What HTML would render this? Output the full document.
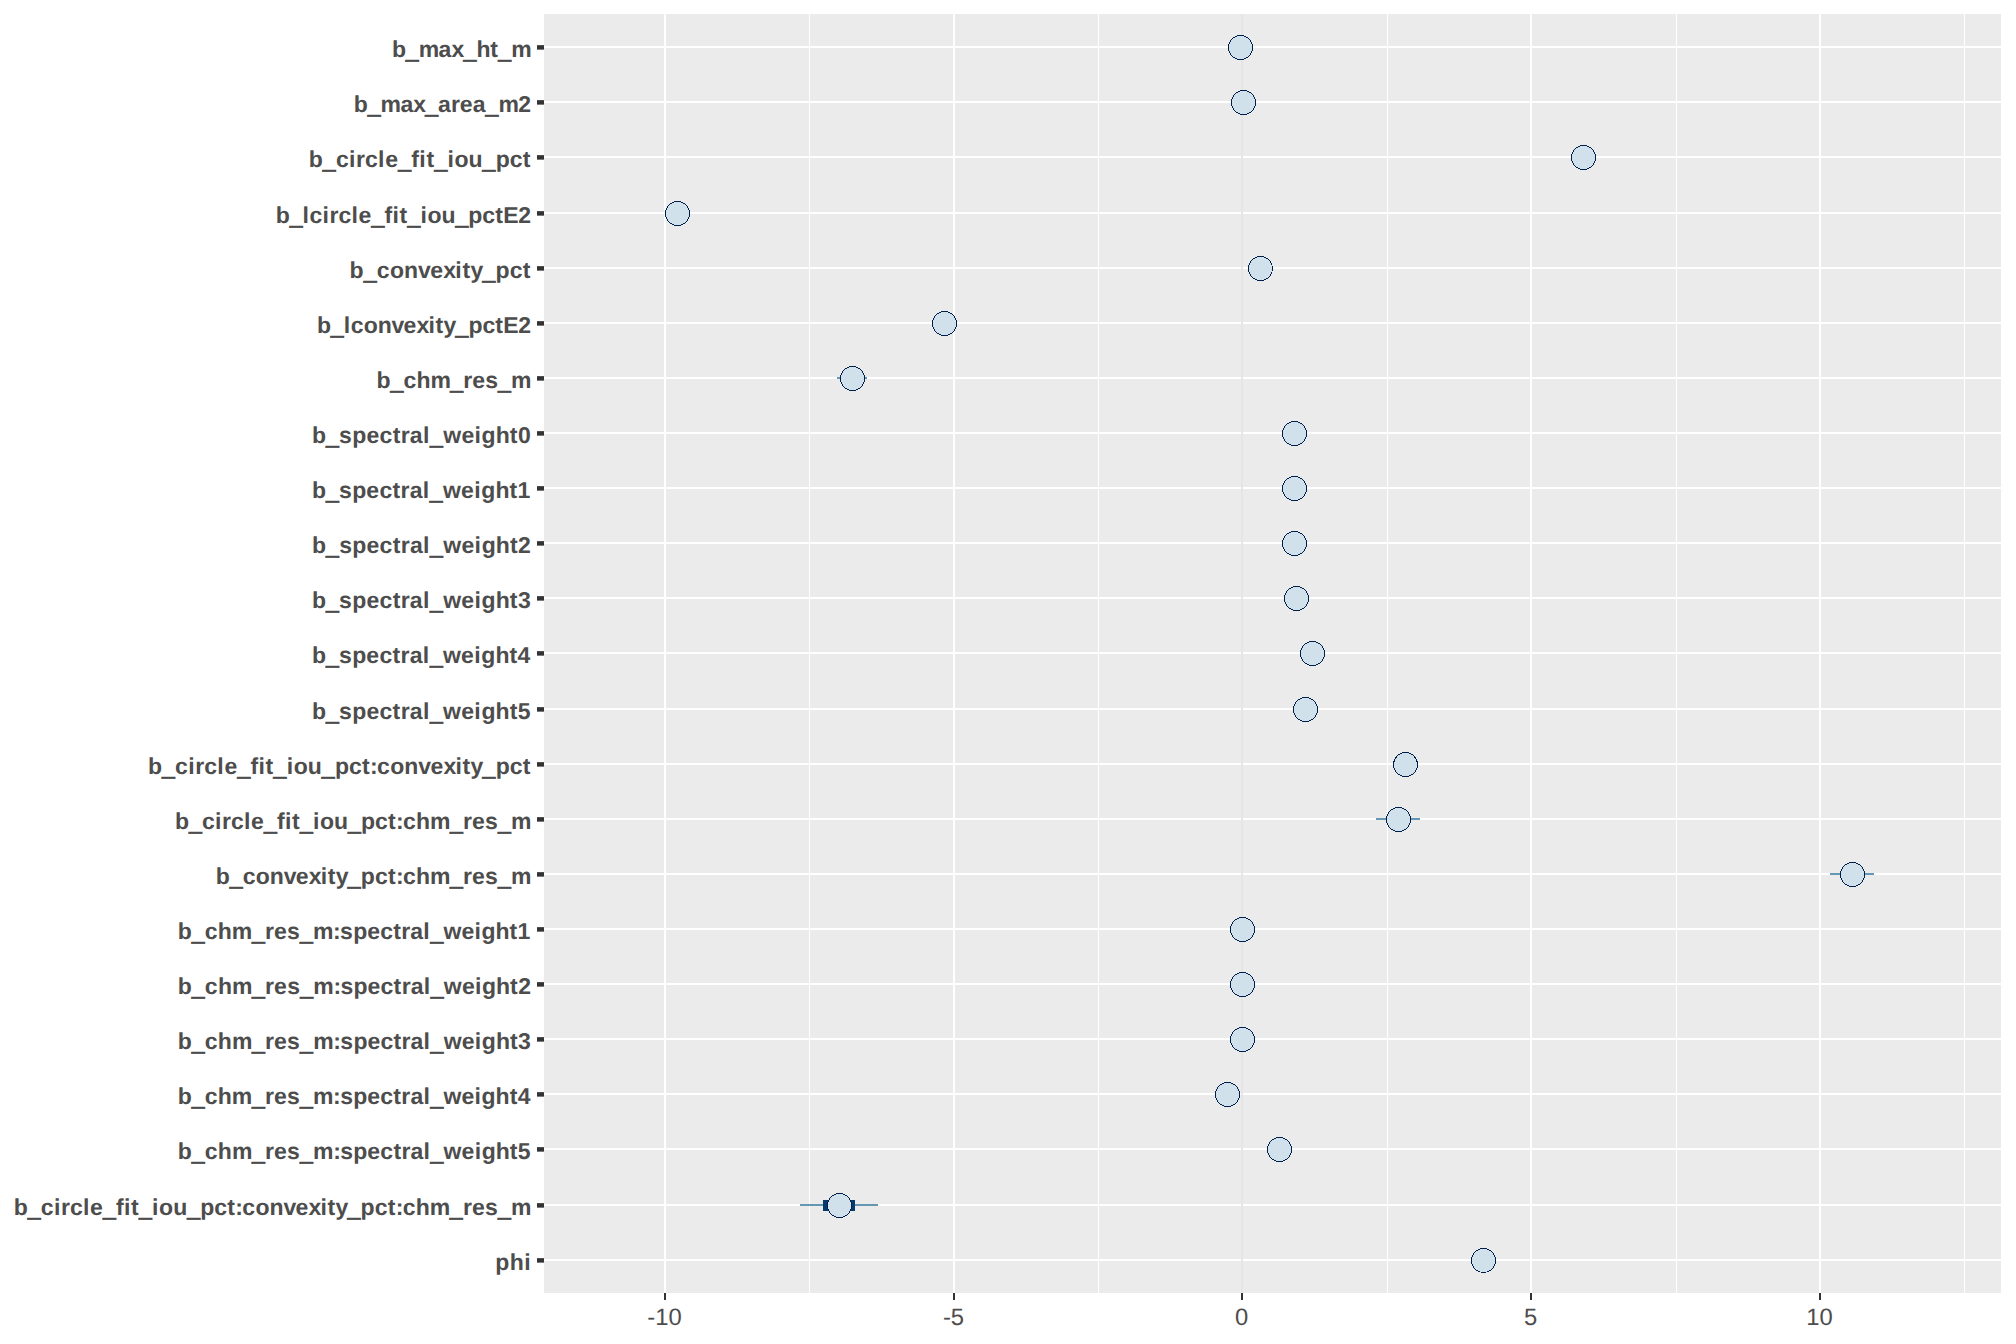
<!DOCTYPE html>
<html lang="en"><head><meta charset="utf-8"><title>mcmc intervals</title>
<style>html,body{margin:0;padding:0;background:#fff}svg{display:block}text{text-rendering:geometricPrecision}.yl{font:bold 23.00px "Liberation Sans",Arial,sans-serif;fill:#4d4d4d}.u{font-weight:400;stroke:#4d4d4d;stroke-width:.6px}.xl{font:23.80px "Liberation Sans",Arial,sans-serif;fill:#4d4d4d;text-anchor:middle}</style></head><body>
<svg width="2016" height="1344" viewBox="0 0 2016 1344">
<rect x="0" y="0" width="2016" height="1344" fill="#ffffff"/>
<rect x="544" y="14" width="1457" height="1279" fill="#ebebeb"/>
<g shape-rendering="crispEdges" fill="#ffffff">
<rect x="809" y="14" width="1" height="1279"/>
<rect x="1098" y="14" width="1" height="1279"/>
<rect x="1387" y="14" width="1" height="1279"/>
<rect x="1676" y="14" width="1" height="1279"/>
<rect x="1964" y="14" width="1" height="1279"/>
<rect x="664" y="14" width="2" height="1279"/>
<rect x="953" y="14" width="2" height="1279"/>
<rect x="1241" y="14" width="2" height="1279"/>
<rect x="1530" y="14" width="2" height="1279"/>
<rect x="1819" y="14" width="2" height="1279"/>
<rect x="544" y="46" width="1457" height="2"/>
<rect x="544" y="101" width="1457" height="2"/>
<rect x="544" y="156" width="1457" height="2"/>
<rect x="544" y="212" width="1457" height="2"/>
<rect x="544" y="267" width="1457" height="2"/>
<rect x="544" y="322" width="1457" height="2"/>
<rect x="544" y="377" width="1457" height="2"/>
<rect x="544" y="432" width="1457" height="2"/>
<rect x="544" y="487" width="1457" height="2"/>
<rect x="544" y="542" width="1457" height="2"/>
<rect x="544" y="597" width="1457" height="2"/>
<rect x="544" y="652" width="1457" height="2"/>
<rect x="544" y="708" width="1457" height="2"/>
<rect x="544" y="763" width="1457" height="2"/>
<rect x="544" y="818" width="1457" height="2"/>
<rect x="544" y="873" width="1457" height="2"/>
<rect x="544" y="928" width="1457" height="2"/>
<rect x="544" y="983" width="1457" height="2"/>
<rect x="544" y="1038" width="1457" height="2"/>
<rect x="544" y="1093" width="1457" height="2"/>
<rect x="544" y="1148" width="1457" height="2"/>
<rect x="544" y="1204" width="1457" height="2"/>
<rect x="544" y="1259" width="1457" height="2"/>
</g>
<rect x="1241" y="14" width="2" height="1279" fill="#e5e5e5" shape-rendering="crispEdges"/>
<g shape-rendering="crispEdges">
<rect x="837.0" y="377" width="30.1" height="2" fill="#6497b1"/>
<rect x="1376.0" y="818" width="44.1" height="2" fill="#6497b1"/>
<rect x="1830.1" y="873" width="43.9" height="2" fill="#6497b1"/>
<rect x="800.1" y="1204" width="77.8" height="2" fill="#6497b1"/>
<rect x="823.0" y="1200.1" width="32.1" height="10.6" fill="#03396c"/>
</g>
<g fill="#d1e1ec" stroke="#011f4b" stroke-width="1" shape-rendering="crispEdges">
<circle cx="1240.5" cy="47.5" r="12"/>
<circle cx="1243.5" cy="102.5" r="12"/>
<circle cx="1583.5" cy="157.5" r="12"/>
<circle cx="677.5" cy="213.5" r="12"/>
<circle cx="1260.5" cy="268.5" r="12"/>
<circle cx="944.5" cy="323.5" r="12"/>
<circle cx="852.5" cy="378.5" r="12"/>
<circle cx="1294.5" cy="433.5" r="12"/>
<circle cx="1294.5" cy="488.5" r="12"/>
<circle cx="1294.5" cy="543.5" r="12"/>
<circle cx="1296.5" cy="598.5" r="12"/>
<circle cx="1312.5" cy="653.5" r="12"/>
<circle cx="1305.5" cy="709.5" r="12"/>
<circle cx="1405.5" cy="764.5" r="12"/>
<circle cx="1398.5" cy="819.5" r="12"/>
<circle cx="1852.5" cy="874.5" r="12"/>
<circle cx="1242.5" cy="929.5" r="12"/>
<circle cx="1242.5" cy="984.5" r="12"/>
<circle cx="1242.5" cy="1039.5" r="12"/>
<circle cx="1227.5" cy="1094.5" r="12"/>
<circle cx="1279.5" cy="1149.5" r="12"/>
<circle cx="839.5" cy="1205.5" r="12"/>
<circle cx="1483.5" cy="1260.5" r="12"/>
</g>
<g fill="#333333">
<rect x="537" y="45.15" width="7" height="4.5"/>
<rect x="537" y="100.15" width="7" height="4.5"/>
<rect x="537" y="155.15" width="7" height="4.5"/>
<rect x="537" y="211.15" width="7" height="4.5"/>
<rect x="537" y="266.15" width="7" height="4.5"/>
<rect x="537" y="321.15" width="7" height="4.5"/>
<rect x="537" y="376.15" width="7" height="4.5"/>
<rect x="537" y="431.15" width="7" height="4.5"/>
<rect x="537" y="486.15" width="7" height="4.5"/>
<rect x="537" y="541.15" width="7" height="4.5"/>
<rect x="537" y="596.15" width="7" height="4.5"/>
<rect x="537" y="651.15" width="7" height="4.5"/>
<rect x="537" y="707.15" width="7" height="4.5"/>
<rect x="537" y="762.15" width="7" height="4.5"/>
<rect x="537" y="817.15" width="7" height="4.5"/>
<rect x="537" y="872.15" width="7" height="4.5"/>
<rect x="537" y="927.15" width="7" height="4.5"/>
<rect x="537" y="982.15" width="7" height="4.5"/>
<rect x="537" y="1037.15" width="7" height="4.5"/>
<rect x="537" y="1092.15" width="7" height="4.5"/>
<rect x="537" y="1147.15" width="7" height="4.5"/>
<rect x="537" y="1203.15" width="7" height="4.5"/>
<rect x="537" y="1258.15" width="7" height="4.5"/>
<rect x="664" y="1293" width="2" height="7" shape-rendering="crispEdges"/>
<rect x="953" y="1293" width="2" height="7" shape-rendering="crispEdges"/>
<rect x="1241" y="1293" width="2" height="7" shape-rendering="crispEdges"/>
<rect x="1530" y="1293" width="2" height="7" shape-rendering="crispEdges"/>
<rect x="1819" y="1293" width="2" height="7" shape-rendering="crispEdges"/>
</g>
<text class="yl" aria-label="b_max_ht_m"><tspan x="391.9" y="57.0">b</tspan><tspan class="u" x="405.8" y="57.3">_</tspan><tspan x="418.7 438.6 451.5" y="57.0">max</tspan><tspan class="u" x="463.4" y="57.3">_</tspan><tspan x="476.4 490.3" y="57.0">ht</tspan><tspan class="u" x="498.2" y="57.3">_</tspan><tspan x="511.2" y="57.0">m</tspan></text>
<text class="yl" aria-label="b_max_area_m2"><tspan x="353.8" y="112.0">b</tspan><tspan class="u" x="367.7" y="112.3">_</tspan><tspan x="380.5 400.4 413.3" y="112.0">max</tspan><tspan class="u" x="425.2" y="112.3">_</tspan><tspan x="438.0 450.9 459.8 472.7" y="112.0">area</tspan><tspan class="u" x="485.6" y="112.3">_</tspan><tspan x="498.5 518.3" y="112.0">m2</tspan></text>
<text class="yl" aria-label="b_circle_fit_iou_pct"><tspan x="308.8" y="167.0">b</tspan><tspan class="u" x="322.8" y="167.3">_</tspan><tspan x="335.9 349.0 356.0 365.1 378.1 385.2" y="167.0">circle</tspan><tspan class="u" x="398.2" y="167.3">_</tspan><tspan x="411.3 419.3 426.4" y="167.0">fit</tspan><tspan class="u" x="434.4" y="167.3">_</tspan><tspan x="447.5 454.5 468.6" y="167.0">iou</tspan><tspan class="u" x="482.6" y="167.3">_</tspan><tspan x="495.7 509.8 522.8" y="167.0">pct</tspan></text>
<text class="yl" aria-label="b_lcircle_fit_iou_pctE2"><tspan x="275.7" y="223.0">b</tspan><tspan class="u" x="289.7" y="223.3">_</tspan><tspan x="302.6 309.6 322.6 329.6 338.6 351.5 358.5" y="223.0">lcircle</tspan><tspan class="u" x="371.5" y="223.3">_</tspan><tspan x="384.5 392.5 399.5" y="223.0">fit</tspan><tspan class="u" x="407.4" y="223.3">_</tspan><tspan x="420.4 427.4 441.4" y="223.0">iou</tspan><tspan class="u" x="455.4" y="223.3">_</tspan><tspan x="468.3 482.3 495.3 503.3 518.2" y="223.0">pctE2</tspan></text>
<text class="yl" aria-label="b_convexity_pct"><tspan x="349.6" y="277.9">b</tspan><tspan class="u" x="363.7" y="278.3">_</tspan><tspan x="376.8 389.9 404.0 418.1 430.2 443.3 455.3 462.4 470.4" y="277.9">convexity</tspan><tspan class="u" x="482.5" y="278.3">_</tspan><tspan x="495.6 509.7 522.8" y="277.9">pct</tspan></text>
<text class="yl" aria-label="b_lconvexity_pctE2"><tspan x="316.9" y="332.9">b</tspan><tspan class="u" x="330.8" y="333.3">_</tspan><tspan x="343.8 350.8 363.7 377.7 391.6 403.6 416.6 428.5 435.5 443.5" y="332.9">lconvexity</tspan><tspan class="u" x="455.5" y="333.3">_</tspan><tspan x="468.4 482.4 495.3 503.3 518.3" y="332.9">pctE2</tspan></text>
<text class="yl" aria-label="b_chm_res_m"><tspan x="376.6" y="387.9">b</tspan><tspan class="u" x="390.5" y="388.3">_</tspan><tspan x="403.5 416.4 430.4" y="387.9">chm</tspan><tspan class="u" x="450.3" y="388.3">_</tspan><tspan x="463.3 472.2 485.2" y="387.9">res</tspan><tspan class="u" x="498.1" y="388.3">_</tspan><tspan x="511.1" y="387.9">m</tspan></text>
<text class="yl" aria-label="b_spectral_weight0"><tspan x="311.9" y="442.9">b</tspan><tspan class="u" x="326.0" y="443.3">_</tspan><tspan x="339.1 352.3 366.4 379.5 392.7 400.8 409.8 423.0" y="442.9">spectral</tspan><tspan class="u" x="430.0" y="443.3">_</tspan><tspan x="443.2 461.4 474.5 481.6 495.7 509.8 517.9" y="442.9">weight0</tspan></text>
<text class="yl" aria-label="b_spectral_weight1"><tspan x="311.9" y="497.9">b</tspan><tspan class="u" x="326.0" y="498.3">_</tspan><tspan x="339.1 352.2 366.3 379.4 392.5 400.6 409.7 422.8" y="497.9">spectral</tspan><tspan class="u" x="429.8" y="498.3">_</tspan><tspan x="442.9 461.1 474.2 481.2 495.4 509.5 517.5" y="497.9">weight1</tspan></text>
<text class="yl" aria-label="b_spectral_weight2"><tspan x="311.9" y="552.9">b</tspan><tspan class="u" x="326.0" y="553.3">_</tspan><tspan x="339.2 352.3 366.5 379.6 392.7 400.8 409.9 423.1" y="552.9">spectral</tspan><tspan class="u" x="430.1" y="553.3">_</tspan><tspan x="443.3 461.5 474.6 481.7 495.8 510.0 518.1" y="552.9">weight2</tspan></text>
<text class="yl" aria-label="b_spectral_weight3"><tspan x="311.9" y="607.9">b</tspan><tspan class="u" x="326.0" y="608.3">_</tspan><tspan x="339.1 352.3 366.4 379.5 392.7 400.8 409.8 423.0" y="607.9">spectral</tspan><tspan class="u" x="430.0" y="608.3">_</tspan><tspan x="443.2 461.3 474.5 481.5 495.7 509.8 517.9" y="607.9">weight3</tspan></text>
<text class="yl" aria-label="b_spectral_weight4"><tspan x="311.9" y="662.9">b</tspan><tspan class="u" x="326.0" y="663.3">_</tspan><tspan x="339.1 352.2 366.3 379.4 392.6 400.6 409.7 422.8" y="662.9">spectral</tspan><tspan class="u" x="429.9" y="663.3">_</tspan><tspan x="443.0 461.1 474.2 481.3 495.4 509.5 517.6" y="662.9">weight4</tspan></text>
<text class="yl" aria-label="b_spectral_weight5"><tspan x="311.9" y="718.9">b</tspan><tspan class="u" x="326.0" y="719.3">_</tspan><tspan x="339.1 352.2 366.4 379.5 392.6 400.7 409.8 422.9" y="718.9">spectral</tspan><tspan class="u" x="429.9" y="719.3">_</tspan><tspan x="443.1 461.2 474.3 481.4 495.5 509.7 517.7" y="718.9">weight5</tspan></text>
<text class="yl" aria-label="b_circle_fit_iou_pct:convexity_pct"><tspan x="148.0" y="773.9">b</tspan><tspan class="u" x="162.0" y="774.3">_</tspan><tspan x="175.1 188.2 195.2 204.3 217.3 224.4" y="773.9">circle</tspan><tspan class="u" x="237.4" y="774.3">_</tspan><tspan x="250.5 258.5 265.6" y="773.9">fit</tspan><tspan class="u" x="273.6" y="774.3">_</tspan><tspan x="286.7 293.7 307.8" y="773.9">iou</tspan><tspan class="u" x="321.8" y="774.3">_</tspan><tspan x="334.9 349.0 362.0 370.1 377.1 390.2 404.3 418.3 430.4 443.4 455.5 462.5 470.6" y="773.9">pct:convexity</tspan><tspan class="u" x="482.6" y="774.3">_</tspan><tspan x="495.7 509.8 522.8" y="773.9">pct</tspan></text>
<text class="yl" aria-label="b_circle_fit_iou_pct:chm_res_m"><tspan x="174.9" y="828.9">b</tspan><tspan class="u" x="188.9" y="829.3">_</tspan><tspan x="201.9 214.9 221.9 230.9 243.9 250.9" y="828.9">circle</tspan><tspan class="u" x="263.9" y="829.3">_</tspan><tspan x="276.9 284.9 291.9" y="828.9">fit</tspan><tspan class="u" x="299.9" y="829.3">_</tspan><tspan x="312.9 319.9 333.9" y="828.9">iou</tspan><tspan class="u" x="348.0" y="829.3">_</tspan><tspan x="361.0 375.0 388.0 396.0 403.0 416.0 430.0" y="828.9">pct:chm</tspan><tspan class="u" x="450.0" y="829.3">_</tspan><tspan x="463.0 472.0 485.0" y="828.9">res</tspan><tspan class="u" x="498.0" y="829.3">_</tspan><tspan x="511.0" y="828.9">m</tspan></text>
<text class="yl" aria-label="b_convexity_pct:chm_res_m"><tspan x="215.7" y="883.9">b</tspan><tspan class="u" x="229.7" y="884.3">_</tspan><tspan x="242.7 255.7 269.7 283.8 295.8 308.8 320.8 327.8 335.8" y="883.9">convexity</tspan><tspan class="u" x="347.8" y="884.3">_</tspan><tspan x="360.8 374.9 387.9 395.9 402.9 415.9 429.9" y="883.9">pct:chm</tspan><tspan class="u" x="449.9" y="884.3">_</tspan><tspan x="463.0 472.0 485.0" y="883.9">res</tspan><tspan class="u" x="498.0" y="884.3">_</tspan><tspan x="511.0" y="883.9">m</tspan></text>
<text class="yl" aria-label="b_chm_res_m:spectral_weight1"><tspan x="177.7" y="938.9">b</tspan><tspan class="u" x="191.7" y="939.3">_</tspan><tspan x="204.8 217.8 231.8" y="938.9">chm</tspan><tspan class="u" x="251.9" y="939.3">_</tspan><tspan x="264.9 273.9 287.0" y="938.9">res</tspan><tspan class="u" x="300.0" y="939.3">_</tspan><tspan x="313.0 333.1 340.1 353.2 367.2 380.2 393.3 401.3 410.3 423.3" y="938.9">m:spectral</tspan><tspan class="u" x="430.4" y="939.3">_</tspan><tspan x="443.4 461.5 474.5 481.5 495.5 509.6 517.6" y="938.9">weight1</tspan></text>
<text class="yl" aria-label="b_chm_res_m:spectral_weight2"><tspan x="177.7" y="993.9">b</tspan><tspan class="u" x="191.7" y="994.3">_</tspan><tspan x="204.8 217.9 231.9" y="993.9">chm</tspan><tspan class="u" x="252.0" y="994.3">_</tspan><tspan x="265.1 274.1 287.2" y="993.9">res</tspan><tspan class="u" x="300.2" y="994.3">_</tspan><tspan x="313.3 333.4 340.4 353.4 367.5 380.6 393.6 401.7 410.7 423.8" y="993.9">m:spectral</tspan><tspan class="u" x="430.8" y="994.3">_</tspan><tspan x="443.8 461.9 475.0 482.0 496.1 510.1 518.2" y="993.9">weight2</tspan></text>
<text class="yl" aria-label="b_chm_res_m:spectral_weight3"><tspan x="177.7" y="1049.0">b</tspan><tspan class="u" x="191.7" y="1049.3">_</tspan><tspan x="204.8 217.8 231.9" y="1049.0">chm</tspan><tspan class="u" x="252.0" y="1049.3">_</tspan><tspan x="265.0 274.0 287.1" y="1049.0">res</tspan><tspan class="u" x="300.1" y="1049.3">_</tspan><tspan x="313.2 333.3 340.3 353.4 367.4 380.5 393.5 401.5 410.6 423.6" y="1049.0">m:spectral</tspan><tspan class="u" x="430.6" y="1049.3">_</tspan><tspan x="443.7 461.8 474.8 481.8 495.9 509.9 518.0" y="1049.0">weight3</tspan></text>
<text class="yl" aria-label="b_chm_res_m:spectral_weight4"><tspan x="177.7" y="1104.0">b</tspan><tspan class="u" x="191.7" y="1104.3">_</tspan><tspan x="204.8 217.8 231.8" y="1104.0">chm</tspan><tspan class="u" x="251.9" y="1104.3">_</tspan><tspan x="264.9 274.0 287.0" y="1104.0">res</tspan><tspan class="u" x="300.0" y="1104.3">_</tspan><tspan x="313.1 333.1 340.2 353.2 367.2 380.3 393.3 401.3 410.4 423.4" y="1104.0">m:spectral</tspan><tspan class="u" x="430.4" y="1104.3">_</tspan><tspan x="443.5 461.5 474.6 481.6 495.6 509.7 517.7" y="1104.0">weight4</tspan></text>
<text class="yl" aria-label="b_chm_res_m:spectral_weight5"><tspan x="177.7" y="1159.0">b</tspan><tspan class="u" x="191.7" y="1159.3">_</tspan><tspan x="204.8 217.8 231.9" y="1159.0">chm</tspan><tspan class="u" x="251.9" y="1159.3">_</tspan><tspan x="265.0 274.0 287.0" y="1159.0">res</tspan><tspan class="u" x="300.1" y="1159.3">_</tspan><tspan x="313.1 333.2 340.2 353.3 367.3 380.3 393.4 401.4 410.4 423.5" y="1159.0">m:spectral</tspan><tspan class="u" x="430.5" y="1159.3">_</tspan><tspan x="443.6 461.6 474.7 481.7 495.7 509.8 517.8" y="1159.0">weight5</tspan></text>
<text class="yl" aria-label="b_circle_fit_iou_pct:convexity_pct:chm_res_m"><tspan x="13.8" y="1215.0">b</tspan><tspan class="u" x="27.8" y="1215.3">_</tspan><tspan x="40.8 53.9 60.9 69.9 82.9 90.0" y="1215.0">circle</tspan><tspan class="u" x="103.0" y="1215.3">_</tspan><tspan x="116.0 124.0 131.1" y="1215.0">fit</tspan><tspan class="u" x="139.1" y="1215.3">_</tspan><tspan x="152.1 159.1 173.2" y="1215.0">iou</tspan><tspan class="u" x="187.2" y="1215.3">_</tspan><tspan x="200.2 214.3 227.3 235.3 242.3 255.4 269.4 283.4 295.5 308.5 320.5 327.5 335.6" y="1215.0">pct:convexity</tspan><tspan class="u" x="347.6" y="1215.3">_</tspan><tspan x="360.6 374.7 387.7 395.7 402.7 415.8 429.8" y="1215.0">pct:chm</tspan><tspan class="u" x="449.8" y="1215.3">_</tspan><tspan x="462.9 471.9 484.9" y="1215.0">res</tspan><tspan class="u" x="498.0" y="1215.3">_</tspan><tspan x="511.0" y="1215.0">m</tspan></text>
<text class="yl" aria-label="phi"><tspan x="495.2 509.7 524.2" y="1270.0">phi</tspan></text>
<text class="xl" x="664.5" y="1324.6">-10</text>
<text class="xl" x="953.5" y="1324.6">-5</text>
<text class="xl" x="1241.5" y="1324.6">0</text>
<text class="xl" x="1530.5" y="1324.6">5</text>
<text class="xl" x="1819.5" y="1324.6">10</text>
</svg></body></html>
